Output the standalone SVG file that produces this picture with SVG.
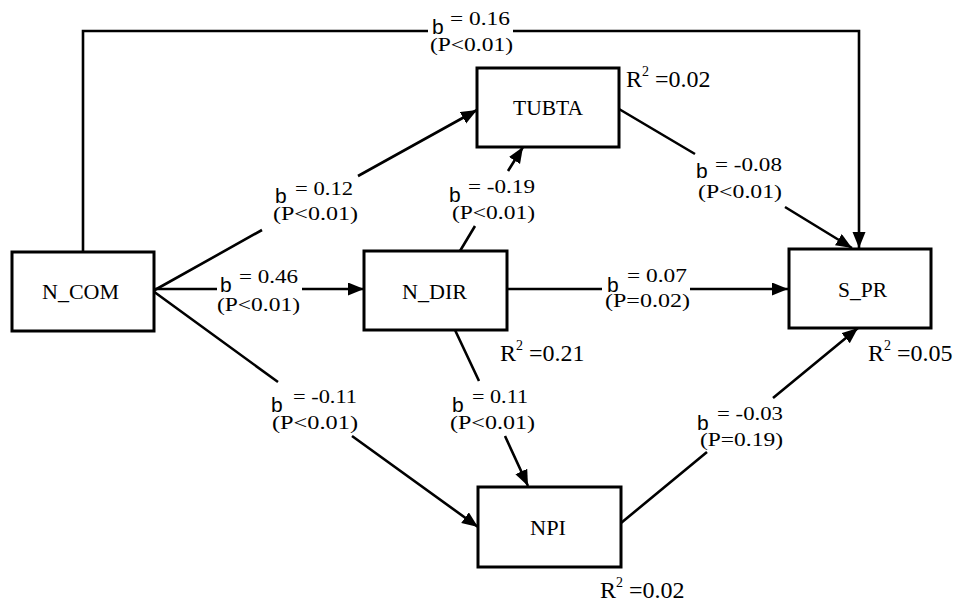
<svg xmlns="http://www.w3.org/2000/svg" width="969" height="604" viewBox="0 0 969 604">
<style>
.box{fill:#fff;stroke:#000;stroke-width:3}
.ln{fill:none;stroke:#000;stroke-width:2.6}
.nt{font-family:"Liberation Serif","Times New Roman",serif;font-size:20px;fill:#000}
.lb{font-family:"Liberation Serif","Times New Roman",serif;font-size:18px;fill:#000}
.bb{font-family:"Liberation Sans",Arial,sans-serif;font-size:21px;fill:#000}
.r{font-family:"Liberation Serif","Times New Roman",serif;font-size:24px;fill:#000}
.sup{font-size:14px}
</style>
<defs>
<marker id="ah" markerUnits="userSpaceOnUse" markerWidth="18" markerHeight="14" refX="16" refY="6.5" orient="auto">
<path d="M0,0 L16,6.5 L0,13 z" fill="#000"/>
</marker>
</defs>
<g id="connectors">
<path class="ln" d="M83,252 L83,31 L428,31 M513,31 L859,31 L859,248" marker-end="url(#ah)"/>
<path class="ln" d="M153,291 L262,230 M358,176 L477,110" marker-end="url(#ah)"/>
<path class="ln" d="M153,289 L217,289 M302,289 L364,289" marker-end="url(#ah)"/>
<path class="ln" d="M153,291 L278,382 M352,436 L478,527" marker-end="url(#ah)"/>
<path class="ln" d="M460,251 L475,226 M508,171 L523,147" marker-end="url(#ah)"/>
<path class="ln" d="M455,330 L479,381 M505,436 L528,486" marker-end="url(#ah)"/>
<path class="ln" d="M507,289 L602,289 M690,289 L788,289" marker-end="url(#ah)"/>
<path class="ln" d="M619,109 L695,154 M785,207 L852,248" marker-end="url(#ah)"/>
<path class="ln" d="M621,523 L707,452 M773,398 L858,328" marker-end="url(#ah)"/>
</g>
<g id="N_COM">
<rect class="box" x="12" y="252" width="142" height="79"/>
<text class="nt" x="42" y="299" textLength="77" lengthAdjust="spacingAndGlyphs">N_COM</text>
</g>
<g id="N_DIR">
<rect class="box" x="364" y="251" width="143" height="79"/>
<text class="nt" x="402" y="299" textLength="65" lengthAdjust="spacingAndGlyphs">N_DIR</text>
<text class="r" x="500" y="361">R<tspan class="sup" dy="-11">2</tspan><tspan dy="11"> =0.21</tspan></text>
</g>
<g id="TUBTA">
<rect class="box" x="477" y="68" width="142" height="79"/>
<text class="nt" x="513" y="115" textLength="70" lengthAdjust="spacingAndGlyphs">TUBTA</text>
<text class="r" x="626" y="87">R<tspan class="sup" dy="-11">2</tspan><tspan dy="11"> =0.02</tspan></text>
</g>
<g id="S_PR">
<rect class="box" x="789" y="249" width="142" height="79"/>
<text class="nt" x="838" y="297" textLength="49" lengthAdjust="spacingAndGlyphs">S_PR</text>
<text class="r" x="868" y="361">R<tspan class="sup" dy="-11">2</tspan><tspan dy="11"> =0.05</tspan></text>
</g>
<g id="NPI">
<rect class="box" x="478" y="487" width="143" height="80"/>
<text class="nt" x="530" y="535" textLength="36" lengthAdjust="spacingAndGlyphs">NPI</text>
<text class="r" x="600" y="598">R<tspan class="sup" dy="-11">2</tspan><tspan dy="11"> =0.02</tspan></text>
</g>
<g id="labels">
<text class="lb"><tspan class="bb" x="432" y="34">b</tspan><tspan x="450" y="25" textLength="60" lengthAdjust="spacingAndGlyphs">= 0.16</tspan><tspan x="430" y="51" textLength="83" lengthAdjust="spacingAndGlyphs">(P&lt;0.01)</tspan></text>
<text class="lb"><tspan class="bb" x="275" y="203">b</tspan><tspan x="295" y="195" textLength="58" lengthAdjust="spacingAndGlyphs">= 0.12</tspan><tspan x="273" y="220" textLength="85" lengthAdjust="spacingAndGlyphs">(P&lt;0.01)</tspan></text>
<text class="lb"><tspan class="bb" x="220" y="292">b</tspan><tspan x="239" y="283" textLength="59" lengthAdjust="spacingAndGlyphs">= 0.46</tspan><tspan x="217" y="311" textLength="83" lengthAdjust="spacingAndGlyphs">(P&lt;0.01)</tspan></text>
<text class="lb"><tspan class="bb" x="449" y="202">b</tspan><tspan x="468" y="193" textLength="67" lengthAdjust="spacingAndGlyphs">= -0.19</tspan><tspan x="452" y="219" textLength="83" lengthAdjust="spacingAndGlyphs">(P&lt;0.01)</tspan></text>
<text class="lb"><tspan class="bb" x="696" y="178">b</tspan><tspan x="715" y="171" textLength="67" lengthAdjust="spacingAndGlyphs">= -0.08</tspan><tspan x="698" y="198" textLength="84" lengthAdjust="spacingAndGlyphs">(P&lt;0.01)</tspan></text>
<text class="lb"><tspan class="bb" x="607" y="292">b</tspan><tspan x="627" y="282" textLength="60" lengthAdjust="spacingAndGlyphs">= 0.07</tspan><tspan x="605" y="307" textLength="85" lengthAdjust="spacingAndGlyphs">(P=0.02)</tspan></text>
<text class="lb"><tspan class="bb" x="271" y="412">b</tspan><tspan x="293" y="403" textLength="64" lengthAdjust="spacingAndGlyphs">= -0.11</tspan><tspan x="272" y="429" textLength="86" lengthAdjust="spacingAndGlyphs">(P&lt;0.01)</tspan></text>
<text class="lb"><tspan class="bb" x="452" y="412">b</tspan><tspan x="472" y="403" textLength="56" lengthAdjust="spacingAndGlyphs">= 0.11</tspan><tspan x="450" y="429" textLength="85" lengthAdjust="spacingAndGlyphs">(P&lt;0.01)</tspan></text>
<text class="lb"><tspan class="bb" x="697" y="430">b</tspan><tspan x="717" y="420" textLength="66" lengthAdjust="spacingAndGlyphs">= -0.03</tspan><tspan x="700" y="446" textLength="83" lengthAdjust="spacingAndGlyphs">(P=0.19)</tspan></text>
</g>
</svg>
